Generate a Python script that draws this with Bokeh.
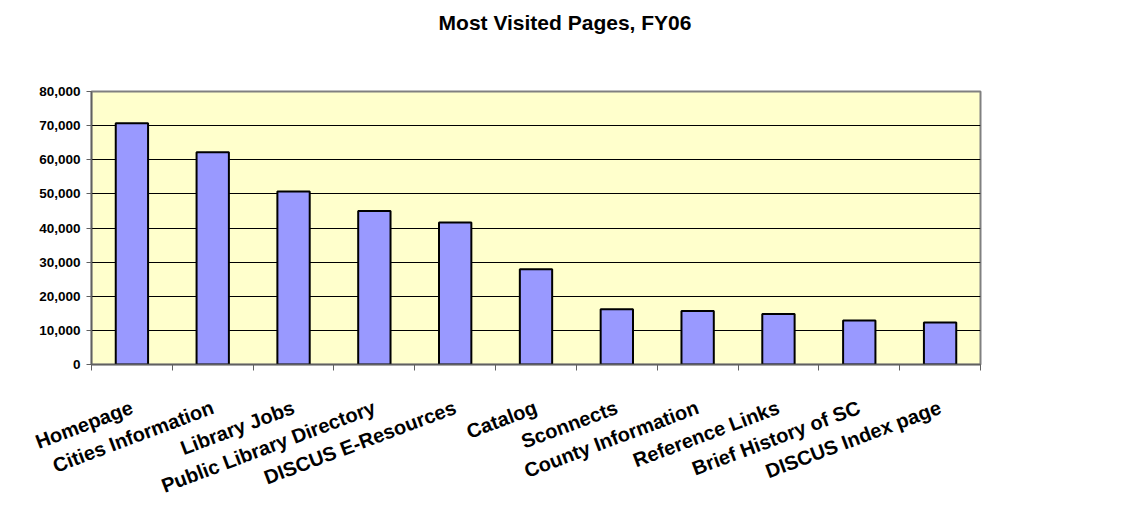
import numpy as np
from bokeh.plotting import figure
from bokeh.models import FixedTicker, NumeralTickFormatter, Range1d, Div
from bokeh.layouts import column
from bokeh.embed import file_html
from bokeh.resources import INLINE

# ---- data ----
pages = ["Homepage", "Cities Information", "Library Jobs", "Public Library Directory",
         "DISCUS E-Resources", "Catalog", "Sconnects", "County Information",
         "Reference Links", "Brief History of SC", "DISCUS Index page"]
visits = [70700, 62200, 50700, 45000, 41600, 27900, 16200, 15700, 14800, 12900, 12300]
y_ticks = [0, 10000, 20000, 30000, 40000, 50000, 60000, 70000, 80000]
title_text = "Most Visited Pages, FY06"

FONT = "Liberation Sans"
n = len(pages)
centers = [i + 0.5 for i in range(n)]
bounds = list(range(n + 1))
y_max = y_ticks[-1]

W = 1110
TITLE_H = 50
title_div = Div(text=title_text, width=W, height=TITLE_H,
                styles={"font-family": FONT, "font-weight": "bold", "font-size": "21px",
                        "color": "black", "text-align": "center", "text-indent": "24px",
                        "line-height": f"{TITLE_H}px", "width": f"{W}px",
                        "margin": "0", "padding": "0"})

p = figure(width=W, height=513 - TITLE_H,
           x_range=Range1d(0, n), y_range=Range1d(0, y_max),
           output_backend="svg", toolbar_location=None,
           min_border_left=93, min_border_top=93 - TITLE_H,
           min_border_right=128, min_border_bottom=147)

p.background_fill_color = "#FFFFCC"
p.border_fill_color = "white"
p.outline_line_color = "#808080"
p.outline_line_width = 2

# grid
p.xgrid.visible = False
p.ygrid.ticker = FixedTicker(ticks=y_ticks)
p.ygrid.grid_line_color = "black"
p.ygrid.grid_line_width = 1

# y axis
p.yaxis.ticker = FixedTicker(ticks=y_ticks)
p.yaxis.formatter = NumeralTickFormatter(format="0,0")
p.yaxis.major_label_text_font = FONT
p.yaxis.major_label_text_font_style = "bold"
p.yaxis.major_label_text_font_size = "13.5px"
p.yaxis.major_label_text_color = "black"
p.yaxis.major_tick_out = 5
p.yaxis.major_tick_in = 0
p.yaxis.minor_tick_line_color = None
p.yaxis.axis_line_color = "#606060"
p.yaxis.axis_line_width = 1.5
p.yaxis.major_tick_line_color = "#606060"
p.yaxis.major_label_standoff = 6

# x axis: labels at centres, ticks at category boundaries
p.xaxis.ticker = FixedTicker(ticks=centers, minor_ticks=bounds)
p.xaxis.major_label_overrides = {c: name for c, name in zip(centers, pages)}
p.xaxis.major_label_orientation = 0.36
p.xaxis.major_label_text_font = FONT
p.xaxis.major_label_text_font_style = "bold"
p.xaxis.major_label_text_font_size = "20px"
p.xaxis.major_label_text_color = "black"
p.xaxis.major_tick_out = 0
p.xaxis.major_tick_in = 0
p.xaxis.minor_tick_out = 6
p.xaxis.minor_tick_in = 0
p.xaxis.minor_tick_line_color = "#606060"
p.xaxis.axis_line_color = "#606060"
p.xaxis.axis_line_width = 1.5
p.xaxis.major_label_standoff = 36

# bars
p.vbar(x=centers, top=visits, width=0.4, fill_color="#9999FF",
       line_color="black", line_width=2)

layout = column(title_div, p, spacing=0,
                styles={"margin-left": "-4px", "margin-top": "-4px",
                        "border-left": "2px solid #303030",
                        "border-top": "2px solid #303030"})
open("out.html", "w").write(file_html(layout, INLINE))
